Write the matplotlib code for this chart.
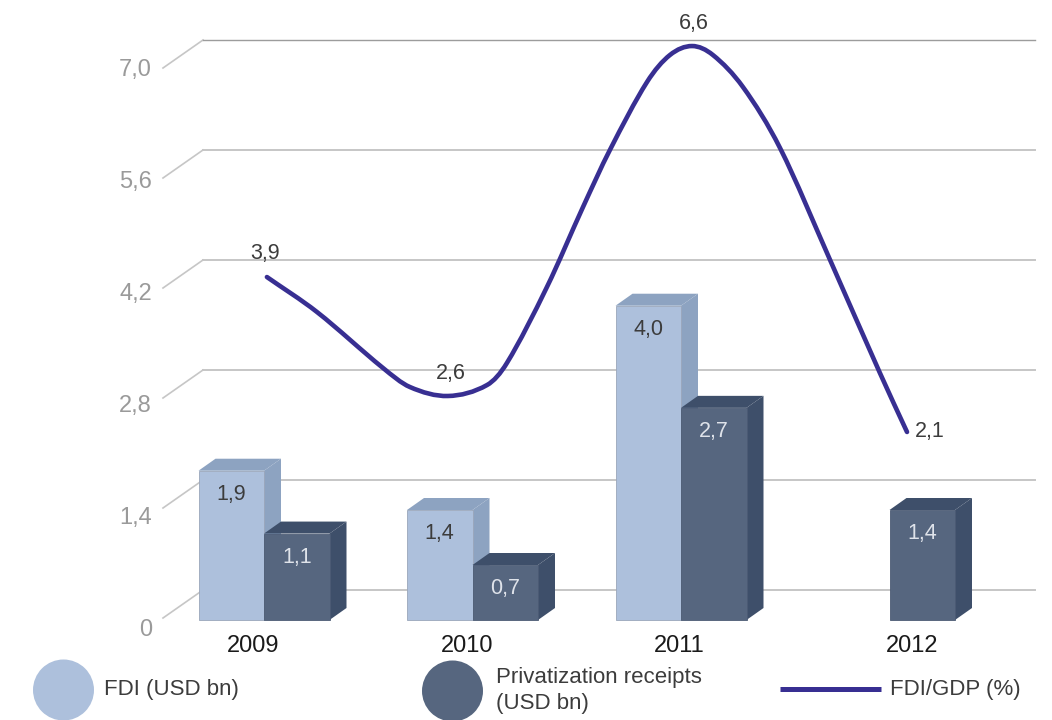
import matplotlib
matplotlib.use('Agg')
import matplotlib.pyplot as plt
from matplotlib.patches import Polygon, Ellipse, PathPatch
from matplotlib.path import Path
from matplotlib.transforms import Affine2D

plt.rcParams['font.family'] = ['Liberation Sans', 'DejaVu Sans']

years = ['2009', '2010', '2011', '2012']
fdi = [1.9, 1.4, 4.0, None]
privatization = [1.1, 0.7, 2.7, 1.4]
line_labels = ['3,9', '2,6', '6,6', '2,1']
y_ticks = [0, 1.4, 2.8, 4.2, 5.6, 7.0]
y_tick_labels = ['0', '1,4', '2,8', '4,2', '5,6', '7,0']

# FDI/GDP curve, in axis units
line_x = [0.014, 0.254, 0.571, 0.700, 0.882, 1.070, 1.165, 1.357, 1.530,
          1.659, 1.837, 1.947, 2.053, 2.153, 2.297, 2.475, 2.715, 2.954, 3.084]
line_y = [4.365, 3.92, 3.207, 2.965, 2.851, 2.991, 3.271, 4.238, 5.256,
          5.982, 6.847, 7.191, 7.305, 7.191, 6.784, 6.007, 4.582, 3.144, 2.393]

LIGHT, LIGHT_SIDE = '#adc0dc', '#8da3c1'
DARK, DARK_SIDE = '#56667f', '#3e4f6a'
LINE = '#382f92'
GRID = '#c6c6c6'
TICK = '#9a9a9a'
TEXT = '#3c3c3c'

W, H = 1052, 720
PX_X = 208.5          # pixels per category
PX_Y = 110 / 1.4      # pixels per unit
X0, Y0 = 264, 620     # pixel position of first category, zero

fig = plt.figure(figsize=(W / 100, H / 100), dpi=100)
ax = fig.add_axes([0, 0, 1, 1])
ax.set_xlim(-X0 / PX_X, (W - X0) / PX_X)
ax.set_ylim(-(H - Y0) / PX_Y, Y0 / PX_Y)
ax.axis('off')

# pixel coordinates, origin top left, for text and legend
px = Affine2D().scale(1, -1).translate(0, H)

# grid on the back wall with the slanted piece at the left
dx_wall, dy_wall = 40 / PX_X, 30 / PX_Y
slant = 28 / PX_Y
x_left = (163 - X0) / PX_X
x_right = (1035 - X0) / PX_X
for i, v in enumerate(y_ticks):
    top = i == len(y_ticks) - 1
    wall = v + dy_wall
    ax.plot([x_left, x_left + dx_wall], [wall - slant, wall], color=GRID, lw=1.2, zorder=1)
    ax.plot([x_left + dx_wall, x_right], [wall, wall], color='#9c9c9c' if top else GRID,
            lw=1.0 if top else 1.4, zorder=1)
    ax.text(152, 630 - 112 * i, y_tick_labels[i], transform=px, color=TICK,
            fontsize=17, ha='right', va='center')

bar_w = 65.5 / PX_X
dx_bar, dy_bar = 17 / PX_X, 12 / PX_Y


def bar3d(x, h, front, side, edge, txt_color, label, z):
    ax.bar(x, h, width=bar_w, align='edge', color=front, edgecolor=edge, linewidth=0.6, zorder=z + 0.2)
    ax.add_patch(Polygon([(x, h), (x + bar_w, h), (x + bar_w + dx_bar, h + dy_bar), (x + dx_bar, h + dy_bar)],
                         closed=True, facecolor=side, edgecolor='none', zorder=z))
    ax.add_patch(Polygon([(x + bar_w, 0), (x + bar_w, h), (x + bar_w + dx_bar, h + dy_bar), (x + bar_w + dx_bar, dy_bar)],
                         closed=True, facecolor=side, edgecolor='none', zorder=z))
    ax.annotate(label, xy=(x + bar_w / 2, h), xytext=(0, -17), textcoords='offset points', ha='center',
                va='center', color=txt_color, fontsize=15.5, zorder=z + 0.3)


for i in range(len(years)):
    z = 2 + i * 2
    if fdi[i] is not None:
        bar3d(i - bar_w, fdi[i], LIGHT, LIGHT_SIDE, '#9aa6ba', TEXT, f'{fdi[i]:.1f}'.replace('.', ','), z)
    bar3d(i, privatization[i], DARK, DARK_SIDE, '#4c5b74', '#dfe3ea', f'{privatization[i]:.1f}'.replace('.', ','), z + 1)

# smooth the read points: Hermite curve with finite difference slopes
n = len(line_x)
slopes = []
for i in range(n):
    a, b = max(i - 1, 0), min(i + 1, n - 1)
    slopes.append((line_y[b] - line_y[a]) / (line_x[b] - line_x[a]))
verts = [(line_x[0], line_y[0])]
codes = [Path.MOVETO]
for i in range(n - 1):
    h = line_x[i + 1] - line_x[i]
    verts += [(line_x[i] + h / 3, line_y[i] + slopes[i] * h / 3),
              (line_x[i + 1] - h / 3, line_y[i + 1] - slopes[i + 1] * h / 3),
              (line_x[i + 1], line_y[i + 1])]
    codes += [Path.CURVE4] * 3
ax.add_patch(PathPatch(Path(verts, codes), facecolor='none', edgecolor=LINE, lw=3.3,
                       capstyle='round', zorder=20))

label_pos = [(265, 254), (451, 373), (694, 23), (930, 431)]
for lab, (tx, ty) in zip(line_labels, label_pos):
    ax.text(tx, ty, lab, transform=px, color=TEXT, fontsize=15.5, ha='center', va='center', zorder=21)

year_x = [253, 467, 679, 912]
for yr, tx in zip(years, year_x):
    ax.text(tx, 646, yr, transform=px, color='#1a1a1a', fontsize=17, ha='center', va='center')

# legend
ax.add_patch(Ellipse((63.5, 690), 61, 61, transform=px, facecolor=LIGHT, edgecolor='none'))
ax.add_patch(Ellipse((452.5, 691), 61, 61, transform=px, facecolor=DARK, edgecolor='none'))
ax.plot([780, 881], [689, 689], transform=px, color=LINE, lw=3.6, solid_capstyle='butt')
ax.text(104, 690, 'FDI (USD bn)', transform=px, color=TEXT, fontsize=16, va='center')
ax.text(496, 677, 'Privatization receipts', transform=px, color=TEXT, fontsize=16, va='center')
ax.text(496, 704, '(USD bn)', transform=px, color=TEXT, fontsize=16, va='center')
ax.text(890, 690, 'FDI/GDP (%)', transform=px, color=TEXT, fontsize=16, va='center')

fig.savefig('out.png', dpi=100)
